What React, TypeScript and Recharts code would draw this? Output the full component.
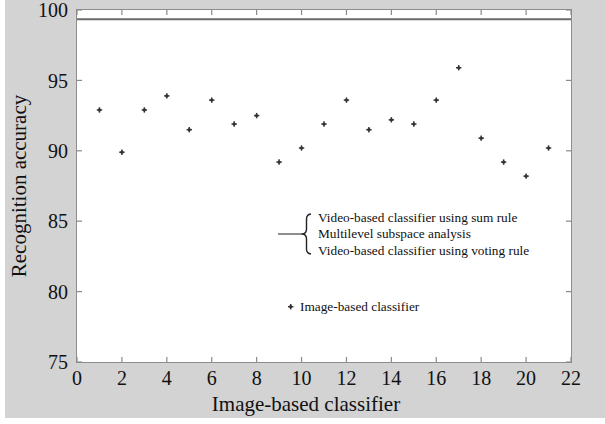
import { ReferenceLine, Scatter, ScatterChart, XAxis, YAxis } from "recharts";

// image-based classifier, one recognition accuracy per image index
const imageIdx = [1, 2, 3, 4, 5, 6, 7, 8, 9, 10, 11, 12, 13, 14, 15, 16, 17, 18, 19, 20, 21];
const imageAcc = [
  92.9, 89.9, 92.9, 93.9, 91.5, 93.6, 91.9, 92.5, 89.2, 90.2, 91.9,
  93.6, 91.5, 92.2, 91.9, 93.6, 95.9, 90.9, 89.2, 88.2, 90.2,
];

// sum rule, multilevel subspace and voting rule all land on the same level
const fusedAcc = 99.35;
const fusedLabels = [
  "Video-based classifier using sum rule",
  "Multilevel subspace analysis",
  "Video-based classifier using voting rule",
];
const imageLabel = "Image-based classifier";

const xTicks = [0, 2, 4, 6, 8, 10, 12, 14, 16, 18, 20, 22];
const yTicks = [75, 80, 85, 90, 95, 100];

const W = 605;
const H = 424;
const margin = { top: 10, right: 34, bottom: 7, left: 17 };
const Y_W = 60;
const X_H = 55;
const TM = 9; // tick label gap
const plot = {
  x: margin.left + Y_W,
  y: margin.top,
  w: W - margin.left - Y_W - margin.right,
  h: H - margin.top - margin.bottom - X_H,
};

const serif = "'Liberation Serif', 'Times New Roman', serif";
const tickStroke = { stroke: "#8a8a8a", strokeWidth: 1.2 };
const TL = 5;

// bottom labels + inward ticks on the bottom and top edges
function XTick(p: any) {
  const bottom = p.y - TM;
  const top = bottom - plot.h;
  return (
    <g>
      <line x1={p.x} y1={bottom} x2={p.x} y2={bottom - TL} {...tickStroke} />
      <line x1={p.x} y1={top} x2={p.x} y2={top + TL} {...tickStroke} />
      <text x={p.x} y={p.y} dy="0.71em" textAnchor="middle" fontSize={20} fill="#111" fontFamily={serif}>
        {p.payload.value}
      </text>
    </g>
  );
}

// left labels + inward ticks on the left and right edges
function YTick(p: any) {
  const left = p.x + TM;
  const right = left + plot.w;
  return (
    <g>
      <line x1={left} y1={p.y} x2={left + TL} y2={p.y} {...tickStroke} />
      <line x1={right} y1={p.y} x2={right - TL} y2={p.y} {...tickStroke} />
      <text x={p.x} y={p.y} dy="0.355em" textAnchor="end" fontSize={20} fill="#111" fontFamily={serif}>
        {p.payload.value}
      </text>
    </g>
  );
}

const data = imageIdx.map((x, i) => ({ x, y: imageAcc[i] }));

function Star({ cx, cy }: { cx?: number; cy?: number }) {
  if (cx == null || cy == null) return <g />;
  return (
    <g stroke="#3a3a3a" strokeWidth={1.5}>
      <line x1={cx - 2.7} y1={cy} x2={cx + 2.7} y2={cy} />
      <line x1={cx} y1={cy - 2.7} x2={cx} y2={cy + 2.7} />
      <circle cx={cx} cy={cy} r={1.6} fill="#333" stroke="none" />
    </g>
  );
}

export default function App() {
  return (
    <div
      style={{
        position: "absolute",
        left: 0,
        top: 0,
        width: W,
        height: H,
        background: "#fff",
        fontFamily: serif,
      }}
    >
      <div
        style={{ position: "absolute", left: 5, top: 0, width: 600, height: 418, background: "#d3d3d3" }}
      />
      {/* plot box */}
      <div
        style={{
          position: "absolute",
          left: plot.x - 0.75,
          top: plot.y - 0.75,
          width: plot.w + 1.5,
          height: plot.h + 1.5,
          boxSizing: "border-box",
          border: "1.5px solid #8c8c8c",
          background: "#fff",
        }}
      />
      <div style={{ position: "absolute", left: 0, top: 0 }}>
        <ScatterChart width={W} height={H} margin={margin}>
          <XAxis
            dataKey="x"
            type="number"
            domain={[0, 22]}
            ticks={xTicks}
            allowDataOverflow
            axisLine={false}
            tickLine={false}
            tickSize={0}
            tickMargin={TM}
            tick={XTick}
            interval={0}
            height={X_H}
            label={{
              value: imageLabel,
              position: "insideBottom",
              offset: 6,
              dx: -18,
              style: { fill: "#111", fontSize: 21, fontFamily: serif },
            }}
          />
          <YAxis
            dataKey="y"
            type="number"
            domain={[75, 100]}
            ticks={yTicks}
            allowDataOverflow
            axisLine={false}
            tickLine={false}
            tickSize={0}
            tickMargin={TM}
            tick={YTick}
            interval={0}
            width={Y_W}
            label={{
              value: "Recognition accuracy",
              angle: -90,
              position: "insideLeft",
              offset: 1.5,
              style: { textAnchor: "middle", fill: "#111", fontSize: 21, fontFamily: serif },
            }}
          />
          <ReferenceLine y={fusedAcc} stroke="#6a6a6a" strokeWidth={2} />
          <Scatter data={data} shape={Star} isAnimationActive={false} />
        </ScatterChart>
      </div>
      {/* legend */}
      <svg
        width={W}
        height={H}
        style={{ position: "absolute", left: 0, top: 0, pointerEvents: "none" }}
      >
        <line x1={278} y1={234} x2={303} y2={234} stroke="#6a6a6a" strokeWidth={1.5} />
        <path
          d="M311 214 Q306.5 214.5 306.5 219 L306.5 229 Q306.5 233 303 234 Q306.5 235 306.5 239 L306.5 249 Q306.5 253.5 311 254"
          fill="none"
          stroke="#222"
          strokeWidth={1.4}
        />
        {fusedLabels.map((t, i) => (
          <text key={t} x={318} y={221.5 + i * 16.5} fontSize={13.3} fill="#111" fontFamily={serif}>
            {t}
          </text>
        ))}
        <Star cx={290.7} cy={306.7} />
        <text x={300} y={311} fontSize={13.3} fill="#111" fontFamily={serif}>
          {imageLabel}
        </text>
      </svg>
    </div>
  );
}
